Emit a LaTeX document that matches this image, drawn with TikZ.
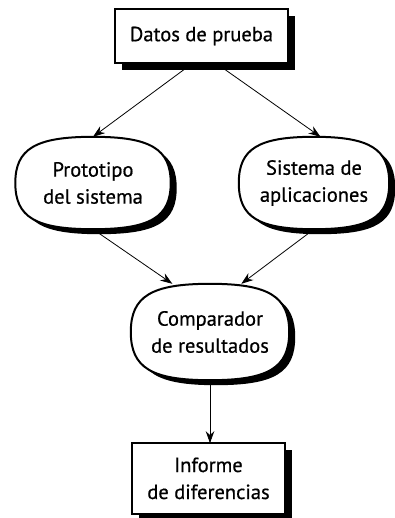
\documentclass[tikz,border=0pt]{standalone}
\usepackage{fontspec}
\setmainfont{PT Sans}[FakeBold=0.6]
\usepackage{tikz}
\usetikzlibrary{arrows.meta,positioning,calc,backgrounds}

% rounded "squircle" outline around a node
\newcommand\kk{0.74}
\newcommand\ovalpath[1]{(#1.west)
  .. controls ($(#1.west)!\kk!(#1.north west)$) and ($(#1.north)!\kk!(#1.north west)$) .. (#1.north)
  .. controls ($(#1.north)!\kk!(#1.north east)$) and ($(#1.east)!\kk!(#1.north east)$) .. (#1.east)
  .. controls ($(#1.east)!\kk!(#1.south east)$) and ($(#1.south)!\kk!(#1.south east)$) .. (#1.south)
  .. controls ($(#1.south)!\kk!(#1.south west)$) and ($(#1.west)!\kk!(#1.south west)$) .. (#1.west)
  -- cycle}

\begin{document}
\begin{tikzpicture}[
  x=1pt, y=1pt,
  font=\fontsize{20.5}{27}\selectfont,
  box/.style={align=center, inner sep=4pt},
  oval/.style={align=center, minimum width=155pt, minimum height=92pt},
  outline/.style={draw=black, line width=2pt, fill=white},
  arr/.style={-{Stealth[length=12pt, width=8.5pt]}, black, line width=0.8pt}
]
\useasboundingbox (0,0) rectangle (394,-518);
\node[box, minimum width=173pt, minimum height=54pt] (datos) at (201.5,-36)
  {Datos de prueba};
\node[oval] (proto) at (93,-183) {Prototipo\\del sistema};
\node[oval, minimum width=150pt] (sist) at (314,-183) {Sistema de\\aplicaciones};
\node[oval, minimum width=158pt, minimum height=96pt] (compar) at (210,-332)
  {Comparador\\de resultados};
\node[box, minimum width=153pt, minimum height=70pt, below=63pt of compar,
  xshift=-1.5pt] (informe) {Informe\\de diferencias};
% outlines and drop shadows behind the text
\begin{scope}[on background layer]
  \foreach \b in {datos,informe}{
    \fill[black] ($(\b.south west)+(7,-7)$) rectangle ($(\b.north east)+(7,-7)$);
    \draw[outline] (\b.south west) rectangle (\b.north east);
  }
  \foreach \o in {proto,sist,compar}{
    \begin{scope}[transform canvas={shift={(6,-5)}}]
      \fill[black] \ovalpath{\o};
    \end{scope}
    \draw[outline] \ovalpath{\o};
  }
\end{scope}
\draw[arr] (datos.252) -- (proto.north);
\draw[arr] (datos.298) -- (sist.82);
\draw[arr] (proto.south) -- (compar.128);
\draw[arr] (sist.south) -- (compar.57);
\draw[arr] (compar.south) -- (compar.south |- informe.north);
\end{tikzpicture}
\end{document}
